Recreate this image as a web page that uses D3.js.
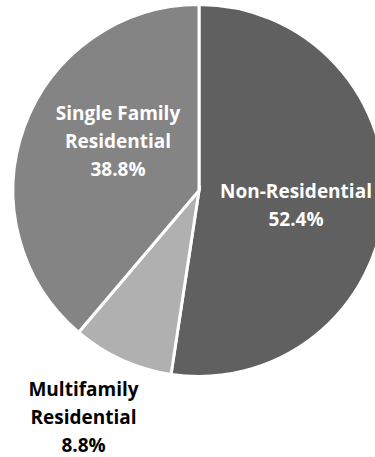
<!DOCTYPE html>
<html><head><meta charset="utf-8">
<script src="https://cdn.jsdelivr.net/npm/d3@7"></script>
<style>body{margin:0;background:#fff;}svg{display:block;}</style>
</head><body>
<svg id="c" width="375" height="457"></svg>
<script>
const categories = ["Non-Residential", "Multifamily Residential", "Single Family Residential"];
const values = [52.4, 8.8, 38.8];
const labelLines = [["Non-Residential"], ["Multifamily", "Residential"], ["Single Family", "Residential"]];
const colors = ["#606060", "#b0b0b0", "#848484"];

const svg = d3.select("#c");
const cx = 199, cy = 190.5, r = 186;
const g = svg.append("g").attr("transform", `translate(${cx},${cy})`);
const pie = d3.pie().sort(null).value(d => d)(values);
const arc = d3.arc().innerRadius(0).outerRadius(r);
g.selectAll("path").data(pie).enter().append("path")
  .attr("d", arc).attr("fill", (d,i) => colors[i])
  .attr("stroke", "#fff").attr("stroke-width", 3).attr("stroke-linejoin","miter");

const labelPos = [[97, 14.5], [-115.5, 226.5], [-81, -49]];
const textColor = ["#fff", "#000", "#fff"];
const fs = 19, lh = 28;
pie.forEach((d, i) => {
  const lines = labelLines[i].concat([values[i].toFixed(1) + "%"]);
  const t = g.append("text").attr("text-anchor", "middle")
    .attr("font-family", "'Open Sans', sans-serif").attr("font-weight", "bold")
    .attr("font-size", fs).attr("fill", textColor[i]);
  const n = lines.length;
  lines.forEach((l, j) => {
    t.append("tspan").attr("x", labelPos[i][0])
      .attr("y", labelPos[i][1] + (j - (n-1)/2) * lh + fs*0.36).text(l);
  });
});
</script>
</body></html>
